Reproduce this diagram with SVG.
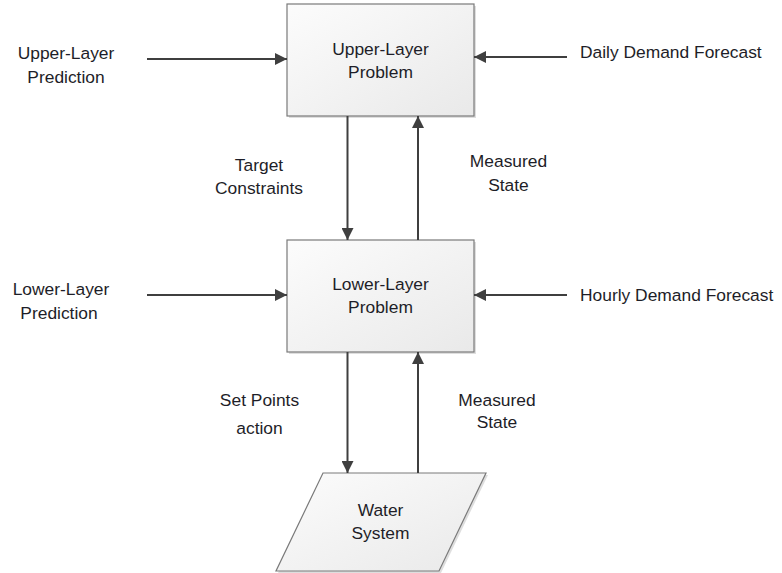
<svg xmlns="http://www.w3.org/2000/svg" width="782" height="573" viewBox="0 0 782 573">
  <style>
    text { font-family: "Liberation Sans", Arial, sans-serif; font-size: 17.4px; fill: #1e1e28; }
    .c { text-anchor: middle; }
    .box { fill: url(#boxFill); stroke: #7a7a7a; stroke-width: 1.2; }
    .shadow { fill: #c8c8c8; opacity: 0.6; }
    .wire { stroke: #3f3f3f; stroke-width: 2; fill: none; marker-end: url(#arrow); }
  </style>
  <defs>
    <linearGradient id="boxFill" x1="0" y1="0" x2="1" y2="1">
      <stop offset="0" stop-color="#fcfcfc"/>
      <stop offset="1" stop-color="#e9e9e9"/>
    </linearGradient>
    <marker id="arrow" viewBox="0 0 10 10" refX="10" refY="5" markerWidth="6" markerHeight="6" markerUnits="strokeWidth" orient="auto">
      <path d="M0,0 L10,5 L0,10 z" fill="#3f3f3f"/>
    </marker>
  </defs>
  <rect width="782" height="573" fill="#ffffff"/>

  <!-- blocks -->
  <g id="upper-problem">
    <rect class="shadow" x="289" y="6" width="187" height="112"/>
    <rect class="box" x="287" y="4" width="187" height="112"/>
    <text class="c" x="380.5" y="55">Upper-Layer</text>
    <text class="c" x="380.5" y="78">Problem</text>
  </g>
  <g id="lower-problem">
    <rect class="shadow" x="289" y="242" width="187" height="112"/>
    <rect class="box" x="287" y="240" width="187" height="112"/>
    <text class="c" x="380.5" y="290">Lower-Layer</text>
    <text class="c" x="380.5" y="313">Problem</text>
  </g>
  <g id="water-system">
    <polygon class="shadow" points="325,475 488,475 441,573 278,573"/>
    <polygon class="box" points="323,473 486,473 439,571 276,571"/>
    <text class="c" x="380.5" y="516">Water</text>
    <text class="c" x="380.5" y="539">System</text>
  </g>

  <!-- input labels -->
  <g id="upper-prediction">
    <text class="c" x="66" y="59">Upper-Layer</text>
    <text class="c" x="66" y="83">Prediction</text>
  </g>
  <g id="daily-forecast">
    <text x="580" y="58">Daily Demand Forecast</text>
  </g>
  <g id="lower-prediction">
    <text class="c" x="61" y="295">Lower-Layer</text>
    <text class="c" x="59" y="319">Prediction</text>
  </g>
  <g id="hourly-forecast">
    <text x="580" y="301">Hourly Demand Forecast</text>
  </g>
  <g id="edge-labels">
    <text class="c" x="259" y="171">Target</text>
    <text class="c" x="259" y="194">Constraints</text>
    <text class="c" x="508.5" y="167">Measured</text>
    <text class="c" x="508.5" y="191">State</text>
    <text class="c" x="259.5" y="406">Set Points</text>
    <text class="c" x="259.5" y="434">action</text>
    <text class="c" x="497" y="406">Measured</text>
    <text class="c" x="497" y="428">State</text>
  </g>

  <!-- connectors -->
  <g id="connectors">
    <line class="wire" x1="147" y1="59" x2="287" y2="59"/>
    <line class="wire" x1="567" y1="57" x2="474" y2="57"/>
    <line class="wire" x1="147" y1="295" x2="287" y2="295"/>
    <line class="wire" x1="567" y1="295" x2="474" y2="295"/>
    <line class="wire" x1="347.5" y1="116" x2="347.5" y2="240"/>
    <line class="wire" x1="418" y1="240" x2="418" y2="116"/>
    <line class="wire" x1="347.5" y1="352" x2="347.5" y2="473"/>
    <line class="wire" x1="418" y1="473" x2="418" y2="352"/>
  </g>
</svg>
